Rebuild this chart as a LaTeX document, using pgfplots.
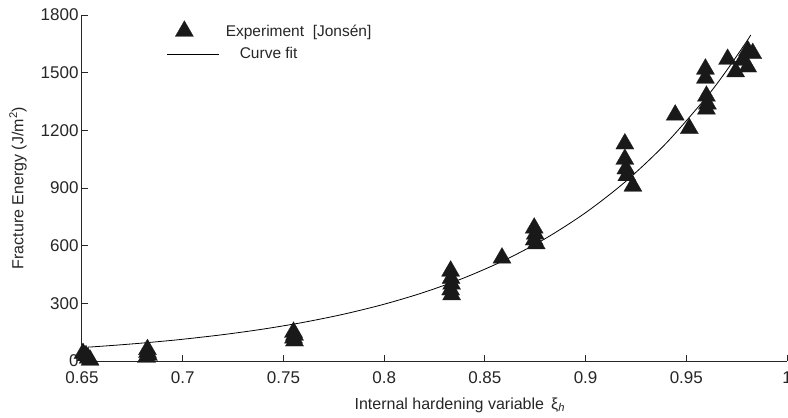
\documentclass[border=0pt]{standalone}
\usepackage{fontspec}
\setmainfont{Liberation Sans}
\usepackage{pgfplots}
\pgfplotsset{compat=1.18}
\pgfplotsset{
    marklegend/.style={legend image code/.code={\draw[mark repeat=2,mark phase=2,##1] plot coordinates {(0pt,0pt) (17pt,0pt) (52pt,0pt)};}},
    linelegend/.style={legend image code/.code={\draw[##1] (0pt,0pt) -- (52pt,0pt);}},
}
\begin{document}
\begin{tikzpicture}
\begin{axis}[
    width=705pt, height=346pt, scale only axis,
    xmin=0.65, xmax=1, ymin=0, ymax=1800,
    xtick={0.65,0.7,0.75,0.8,0.85,0.9,0.95,1},
    ytick={0,300,600,900,1200,1500,1800},
    axis x line=bottom, axis y line=left,
    axis line style={-, line width=1pt, black!85},
    tick align=inside,
    major tick length=6pt,
    tick style={line width=0.9pt, black!85},
    clip=false,
    /pgf/number format/1000 sep={},
    /pgf/number format/assume math mode=true,
    ticklabel style={font=\fontsize{17}{19}\selectfont, text=black!85},
    xticklabel style={yshift=-7pt},
    xlabel={Internal hardening variable \,ξ\textsubscript{\textit{h}}},
    ylabel={Fracture Energy (J/m\textsuperscript{2})},
    every axis x label/.style={at={(axis description cs:0.536,-0.127)}, anchor=center,
        font=\fontsize{16}{18}\selectfont, text=black!85},
    every axis y label/.style={at={(axis description cs:-0.0908,0.5)}, rotate=90, anchor=center,
        font=\fontsize{16}{18}\selectfont, text=black!85},
    legend style={draw=none, fill=none, at={(axis description cs:0.116,0.99)}, anchor=north west,
        font=\fontsize{15.5}{17}\selectfont, row sep=6pt, cells={anchor=west}, text=black!85},
]
\addplot[only marks, mark=triangle*, mark size=10.5pt,
    mark options={fill=black!90, draw=black!90, line width=0.2pt}, marklegend]
coordinates {
    (0.6505,40) (0.652,28) (0.653,15) (0.654,5)
    (0.6825,60) (0.6825,45) (0.683,30) (0.682,20)
    (0.755,150) (0.7555,135) (0.755,120) (0.7555,105)
    (0.833,468) (0.8332,430) (0.8335,400) (0.833,370) (0.8335,345)
    (0.8585,536)
    (0.8745,692) (0.875,660) (0.8745,630) (0.8755,610)
    (0.9195,1130) (0.9195,1050) (0.92,1000) (0.9205,965) (0.9235,910)
    (0.9445,1280) (0.9515,1210)
    (0.9595,1519) (0.9595,1472) (0.96,1378) (0.9605,1337) (0.96,1311)
    (0.9705,1570) (0.9745,1505)
    (0.9805,1615) (0.983,1600) (0.9805,1530) (0.978,1565)
};
\addlegendentry{\hspace*{4pt}Experiment\ \ [Jonsén]}
\addplot[black, line width=0.8pt, no marks, smooth, linelegend]
coordinates {
    (0.653,72) (0.66,77.1) (0.67,84.8) (0.68,93.4) (0.69,102.8) (0.70,113.1)
    (0.72,137.1) (0.74,166.1) (0.76,201.2) (0.78,243.8) (0.80,295.4)
    (0.82,358.0) (0.84,433.8) (0.86,525.6) (0.88,636.8) (0.90,771.6)
    (0.92,934.9) (0.94,1132.9) (0.96,1372.6) (0.97,1511) (0.98,1663) (0.982,1696)
};
\addlegendentry{\hspace*{18pt}Curve fit}
\end{axis}
\pgfresetboundingbox
\path ([xshift=-82pt,yshift=-56pt]current axis.south west) rectangle ([xshift=1pt,yshift=15pt]current axis.north east);
\end{tikzpicture}
\end{document}
